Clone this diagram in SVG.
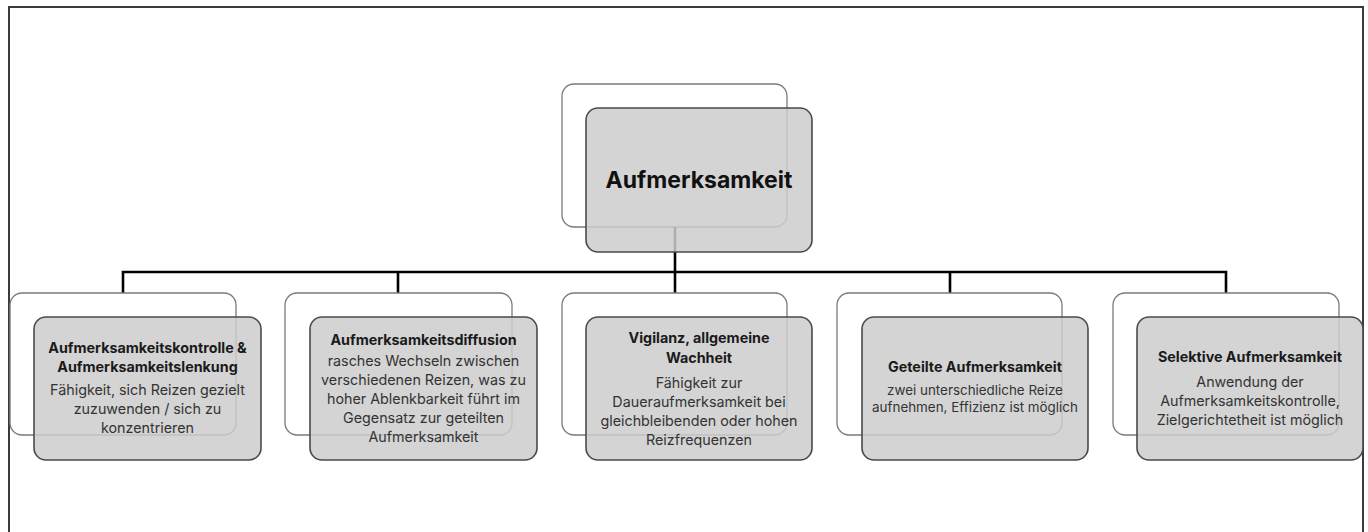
<svg xmlns="http://www.w3.org/2000/svg" width="1368" height="532" viewBox="0 0 1368 532">
<style>
.frame{fill:none;stroke:#3a3a3a;stroke-width:2}
.back{fill:#fff;stroke:#7a7a7a;stroke-width:1.3}
.front{fill:#cdcdcd;fill-opacity:0.85;stroke:#4a4a4a;stroke-width:1.6}
.conn{fill:none;stroke:#000;stroke-width:2.6}
.title{font-family:Inter,"Liberation Sans",sans-serif;font-weight:700;font-size:23px;fill:#111;text-anchor:middle}
.h{font-family:Inter,"Liberation Sans",sans-serif;font-weight:700;font-size:14.3px;fill:#1a1a1a;text-anchor:middle}
.b{font-family:Inter,"Liberation Sans",sans-serif;font-size:14.3px;fill:#333;text-anchor:middle}
.bs{font-family:Inter,"Liberation Sans",sans-serif;font-size:13.4px;fill:#333;text-anchor:middle}
</style>
<rect class="frame" x="9" y="7" width="1354" height="540"/>
<g id="connectors">
<path class="conn" d="M675 252 V272 M123 293 V272 H1226 V293 M398 272 V293 M675 272 V293 M950 272 V293"/>
</g>
<g id="root">
<rect class="back" x="562" y="84" width="225" height="143" rx="12"/>
<line x1="675" y1="227" x2="675" y2="252" stroke="#000" stroke-width="2.6"/>
<rect class="front" x="586" y="108" width="226" height="144" rx="12"/>
<text class="title" x="699" y="188">Aufmerksamkeit</text>
</g>
<g id="n1">
<rect class="back" x="10" y="293" width="226" height="142" rx="12"/>
<rect class="front" x="34" y="317" width="227" height="143" rx="12"/>
<text class="h" x="147.5" y="353">Aufmerksamkeitskontrolle &amp;</text>
<text class="h" x="147.5" y="372">Aufmerksamkeitslenkung</text>
<text class="b" x="147.5" y="395">Fähigkeit, sich Reizen gezielt</text>
<text class="b" x="147.5" y="414">zuzuwenden / sich zu</text>
<text class="b" x="147.5" y="433">konzentrieren</text>
</g>
<g id="n2">
<rect class="back" x="285" y="293" width="227" height="142" rx="12"/>
<rect class="front" x="310" y="317" width="227" height="143" rx="12"/>
<text class="h" x="423.5" y="345">Aufmerksamkeitsdiffusion</text>
<text class="b" x="423.5" y="366">rasches Wechseln zwischen</text>
<text class="b" x="423.5" y="385">verschiedenen Reizen, was zu</text>
<text class="b" x="423.5" y="404">hoher Ablenkbarkeit führt im</text>
<text class="b" x="423.5" y="423">Gegensatz zur geteilten</text>
<text class="b" x="423.5" y="442">Aufmerksamkeit</text>
</g>
<g id="n3">
<rect class="back" x="562" y="293" width="225" height="142" rx="12"/>
<rect class="front" x="586" y="317" width="226" height="143" rx="12"/>
<text class="h" x="699" y="343">Vigilanz, allgemeine</text>
<text class="h" x="699" y="363">Wachheit</text>
<text class="b" x="699" y="388">Fähigkeit zur</text>
<text class="b" x="699" y="407">Daueraufmerksamkeit bei</text>
<text class="b" x="699" y="426">gleichbleibenden oder hohen</text>
<text class="b" x="699" y="445">Reizfrequenzen</text>
</g>
<g id="n4">
<rect class="back" x="837" y="293" width="225" height="142" rx="12"/>
<rect class="front" x="862" y="317" width="226" height="143" rx="12"/>
<text class="h" x="975" y="372">Geteilte Aufmerksamkeit</text>
<text class="bs" x="975" y="395">zwei unterschiedliche Reize</text>
<text class="bs" x="975" y="412">aufnehmen, Effizienz ist möglich</text>
</g>
<g id="n5">
<rect class="back" x="1113" y="293" width="226" height="142" rx="12"/>
<rect class="front" x="1137" y="317" width="226" height="143" rx="12"/>
<text class="h" x="1250" y="362">Selektive Aufmerksamkeit</text>
<text class="b" x="1250" y="387">Anwendung der</text>
<text class="b" x="1250" y="406">Aufmerksamkeitskontrolle,</text>
<text class="b" x="1250" y="425">Zielgerichtetheit ist möglich</text>
</g>
</svg>
